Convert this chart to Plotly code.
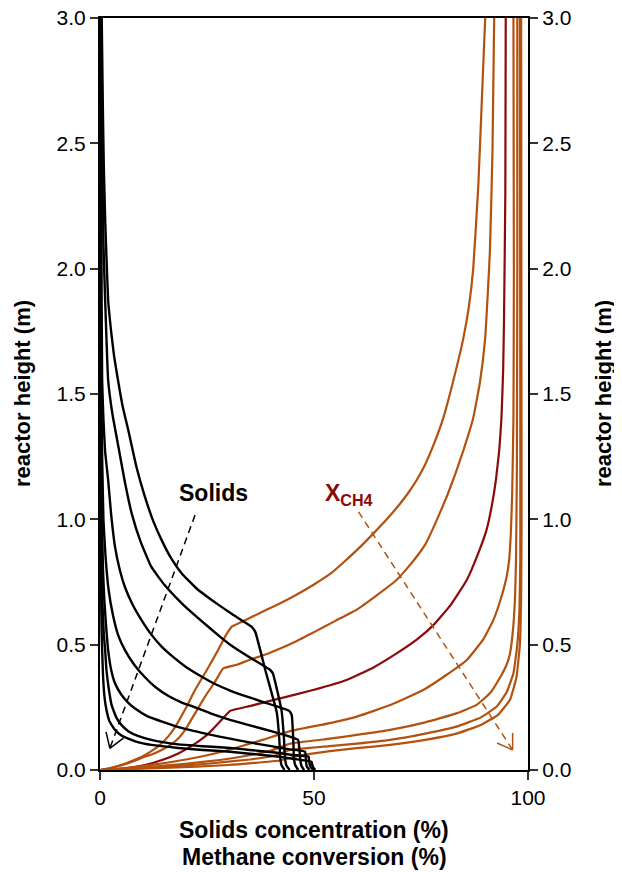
import math
import plotly.graph_objects as go

# ---------------- data ----------------
# Solids concentration (%) vs reactor height (m), seven profiles
SOL1_X = [0.4, 0.55, 0.7, 0.9, 1.2, 1.5, 1.9, 2.6, 3.3, 4.2, 5.3, 6.6, 8.5, 10.5, 12.4, 14.4, 16.6, 19.1, 22.5, 26.1, 31.0, 35.4, 36.3, 38.6, 41.3, 41.9, 42.1, 42.4, 43.1]
SOL1_H = [3.0, 2.8, 2.6, 2.4, 2.2, 2.05, 1.875, 1.75, 1.65, 1.556, 1.45, 1.356, 1.21, 1.09, 0.995, 0.917, 0.845, 0.784, 0.725, 0.678, 0.62, 0.572, 0.55, 0.40, 0.23, 0.12, 0.05, 0.02, 0.0]

SOL2_X = [0.3, 0.4, 0.55, 0.8, 1.2, 1.9, 2.9, 4.3, 5.8, 7.4, 9.5, 12.0, 15.0, 19.1, 23.0, 27.6, 30.4, 35.4, 39.7, 40.4, 42.4, 43.0, 43.2, 43.5, 44.3]
SOL2_H = [3.0, 2.7, 2.4, 2.1, 1.875, 1.556, 1.42, 1.29, 1.15, 1.024, 0.91, 0.81, 0.74, 0.665, 0.605, 0.538, 0.50, 0.445, 0.40, 0.385, 0.239, 0.12, 0.05, 0.02, 0.0]

SOL3_X = [0.2, 0.25, 0.35, 0.5, 0.8, 1.2, 1.9, 2.6, 3.5, 4.6, 5.8, 7.6, 9.7, 12.0, 14.4, 17.0, 20.0, 24.0, 27.0, 30.4, 34.0, 38.0, 44.2, 44.8, 45.2, 45.3, 45.6, 46.3]
SOL3_H = [3.0, 2.5, 2.0, 1.556, 1.4, 1.27, 1.157, 1.02, 0.891, 0.80, 0.731, 0.66, 0.598, 0.54, 0.492, 0.452, 0.412, 0.37, 0.342, 0.317, 0.295, 0.272, 0.236, 0.219, 0.10, 0.05, 0.02, 0.0]

SOL4_X = [0.1, 0.15, 0.3, 0.5, 0.8, 1.3, 2.0, 3.0, 4.2, 5.8, 8.0, 10.5, 13.0, 16.0, 19.0, 22.2, 26.0, 30.4, 35.0, 40.0, 44.0, 46.3, 46.6, 46.8, 47.1, 47.7]
SOL4_H = [3.0, 2.0, 1.556, 1.25, 1.0, 0.85, 0.72, 0.62, 0.54, 0.479, 0.42, 0.37, 0.33, 0.295, 0.27, 0.25, 0.225, 0.20, 0.178, 0.155, 0.135, 0.12, 0.08, 0.04, 0.015, 0.0]

SOL5_X = [0.1, 0.12, 0.2, 0.3, 0.45, 0.7, 1.0, 1.4, 1.9, 2.6, 3.5, 5.0, 6.5, 8.2, 11.0, 15.0, 18.5, 22.2, 26.0, 30.4, 35.0, 40.0, 44.0, 47.9, 48.1, 48.3, 48.9]
SOL5_H = [3.0, 2.0, 1.556, 1.2, 1.0, 0.8, 0.68, 0.58, 0.479, 0.40, 0.346, 0.30, 0.27, 0.245, 0.215, 0.19, 0.17, 0.155, 0.14, 0.125, 0.11, 0.095, 0.083, 0.073, 0.04, 0.015, 0.0]

SOL6_X = [0.05, 0.08, 0.12, 0.2, 0.35, 0.6, 0.9, 1.2, 1.5, 2.0, 2.7, 3.8, 5.0, 6.6, 9.0, 12.0, 15.0, 18.3, 24.0, 30.4, 35.0, 40.9, 45.0, 48.7, 48.9, 49.2, 49.8]
SOL6_H = [3.0, 2.0, 1.5, 1.1, 0.85, 0.65, 0.54, 0.479, 0.40, 0.33, 0.26, 0.21, 0.18, 0.155, 0.135, 0.12, 0.11, 0.102, 0.095, 0.088, 0.08, 0.07, 0.06, 0.053, 0.03, 0.012, 0.0]

SOL7_X = [0.03, 0.05, 0.08, 0.12, 0.2, 0.3, 0.4, 0.5, 0.7, 1.0, 1.5, 2.2, 3.5, 5.0, 6.6, 9.0, 12.0, 18.3, 24.0, 30.4, 35.0, 40.9, 45.0, 49.4, 49.6, 49.9, 50.3]
SOL7_H = [3.0, 2.0, 1.5, 1.1, 0.85, 0.65, 0.54, 0.479, 0.38, 0.30, 0.24, 0.195, 0.16, 0.138, 0.125, 0.11, 0.10, 0.088, 0.08, 0.073, 0.065, 0.055, 0.045, 0.033, 0.02, 0.008, 0.0]

# Methane conversion (%) vs reactor height (m), seven profiles
XCH4_1_X = [0, 2, 4, 6, 8, 10, 12, 14, 16, 17.5, 20, 22.2, 25, 27.6, 29.5, 30.8, 33, 36, 39, 42.1, 46, 50, 54, 57, 60.5, 63.9, 67, 70, 72, 74, 76, 78, 80.2, 82.5, 84.9, 86.2, 87.2, 88.4, 89.2, 90.0]
XCH4_1_H = [0, 0.006, 0.015, 0.026, 0.04, 0.055, 0.075, 0.10, 0.135, 0.17, 0.245, 0.319, 0.40, 0.479, 0.54, 0.572, 0.59, 0.615, 0.64, 0.665, 0.70, 0.74, 0.785, 0.83, 0.885, 0.944, 1.0, 1.06, 1.105, 1.157, 1.22, 1.30, 1.404, 1.55, 1.723, 1.85, 2.0, 2.335, 2.667, 3.0]

XCH4_2_X = [0, 3, 6.6, 10, 12.5, 14.4, 16.5, 18.5, 19.9, 22, 24.5, 26.8, 28.8, 32, 35, 38.5, 42.1, 46, 50, 55, 60, 64.5, 69.3, 73, 76, 78.5, 81, 83, 85, 87.2, 88.8, 90, 90.6, 91.1, 91.7, 92.1]
XCH4_2_H = [0, 0.01, 0.027, 0.05, 0.065, 0.08, 0.10, 0.13, 0.16, 0.22, 0.292, 0.35, 0.405, 0.42, 0.44, 0.46, 0.485, 0.515, 0.55, 0.595, 0.64, 0.695, 0.758, 0.83, 0.90, 0.99, 1.09, 1.18, 1.28, 1.404, 1.55, 1.723, 1.9, 2.069, 2.468, 3.0]

XCH4_3_X = [0, 5, 10.5, 14.5, 18.3, 21.5, 24.5, 26.5, 28.4, 30.4, 35, 42.1, 50, 57.6, 64, 69.3, 74, 77.9, 82, 85.7, 88.5, 90.3, 91.5, 92.5, 93.3, 93.8, 94.2, 94.4, 94.7, 94.8]
XCH4_3_H = [0, 0.005, 0.02, 0.04, 0.066, 0.097, 0.133, 0.165, 0.2, 0.236, 0.255, 0.286, 0.32, 0.359, 0.41, 0.465, 0.52, 0.578, 0.66, 0.758, 0.87, 0.957, 1.05, 1.157, 1.28, 1.404, 1.6, 1.803, 2.3, 3.0]

XCH4_4_X = [0, 8, 16, 24, 30, 34, 38, 44.4, 53.7, 60, 68, 75.5, 81, 85.7, 89.5, 91.9, 93.6, 95.0, 95.6, 96.0, 96.3, 96.6, 96.7, 96.6]
XCH4_4_H = [0, 0.012, 0.03, 0.055, 0.08, 0.10, 0.12, 0.155, 0.187, 0.213, 0.26, 0.319, 0.38, 0.439, 0.52, 0.598, 0.68, 0.771, 0.838, 0.95, 1.1, 1.404, 2.0, 3.0]

XCH4_5_X = [0, 10, 20, 28, 34, 40, 44.4, 53.7, 60, 67.8, 76, 83.3, 88, 91.1, 93.5, 95.0, 95.8, 96.6, 97.0, 97.2, 97.4, 97.5, 97.5]
XCH4_5_H = [0, 0.01, 0.025, 0.04, 0.056, 0.078, 0.105, 0.125, 0.14, 0.16, 0.19, 0.226, 0.26, 0.306, 0.37, 0.42, 0.465, 0.58, 0.705, 0.838, 1.2, 2.0, 3.0]

XCH4_6_X = [0, 15, 25, 35, 41, 44.4, 53.7, 60, 67.8, 76, 83.3, 89, 92.7, 95, 96.6, 97.5, 98.0, 98.2, 98.2, 98.1]
XCH4_6_H = [0, 0.012, 0.025, 0.042, 0.058, 0.08, 0.095, 0.105, 0.12, 0.145, 0.173, 0.21, 0.253, 0.31, 0.386, 0.5, 0.638, 0.838, 1.5, 3.0]

XCH4_7_X = [0, 15, 30, 42, 46, 53.7, 60, 67.8, 76, 83.3, 89, 93, 95.8, 97.3, 98.1, 98.4, 98.5, 98.4]
XCH4_7_H = [0, 0.008, 0.02, 0.038, 0.055, 0.075, 0.087, 0.1, 0.12, 0.145, 0.18, 0.22, 0.28, 0.37, 0.5, 0.7, 1.0, 3.0]

X_TICKS = [0, 50, 100]
Y_TICKS = [0.0, 0.5, 1.0, 1.5, 2.0, 2.5, 3.0]

# annotation positions (data units)
SOLIDS_LABEL = (26.6, 1.107)
XCH4_LABEL = (52.0, 1.10)
SOLIDS_ARROW = [(22.2, 1.017), (2.3, 0.086)]
XCH4_ARROW = [(60.4, 1.03), (96.4, 0.08)]

# ---------------- styling ----------------
# the page body has an 8px default margin, so the figure is sized/offset for it
W, H = 614, 864
ML, MR, MT, MB = 92, 94, 10, 102
PW, PH = W - ML - MR, H - MT - MB
BLACK = "#000000"
ORANGE = "#B3510F"
DARKRED = "#8B0A0A"
FONT = "Liberation Sans, Arial, sans-serif"

fig = go.Figure()

orange_series = [
    (XCH4_1_X, XCH4_1_H, ORANGE),
    (XCH4_2_X, XCH4_2_H, ORANGE),
    (XCH4_3_X, XCH4_3_H, DARKRED),
    (XCH4_4_X, XCH4_4_H, ORANGE),
    (XCH4_5_X, XCH4_5_H, ORANGE),
    (XCH4_6_X, XCH4_6_H, ORANGE),
    (XCH4_7_X, XCH4_7_H, ORANGE),
]
for xs, hs, col in orange_series:
    fig.add_trace(go.Scatter(x=xs, y=hs, mode="lines",
                             line=dict(color=col, width=2.2, shape="spline", smoothing=0.35),
                             showlegend=False, hoverinfo="skip"))

solids_series = [(SOL1_X, SOL1_H), (SOL2_X, SOL2_H), (SOL3_X, SOL3_H), (SOL4_X, SOL4_H),
                 (SOL5_X, SOL5_H), (SOL6_X, SOL6_H), (SOL7_X, SOL7_H)]
for xs, hs in solids_series:
    fig.add_trace(go.Scatter(x=xs, y=hs, mode="lines",
                             line=dict(color=BLACK, width=2.4, shape="spline", smoothing=0.35),
                             showlegend=False, hoverinfo="skip"))

# dashed arrows with open V heads
sx = PW / 100.0
sy = PH / 3.0


def add_arrow(p0, p1, color, length=17, half_angle=33):
    (x0, y0), (x1, y1) = p0, p1
    fig.add_trace(go.Scatter(x=[x0, x1], y=[y0, y1], mode="lines",
                             line=dict(color=color, width=1.5, dash="7px,5px"),
                             showlegend=False, hoverinfo="skip"))
    dx, dy = (x1 - x0) * sx, (y1 - y0) * sy
    L = math.hypot(dx, dy)
    bx, by = -dx / L, -dy / L
    hx, hy = [], []
    for s in (1, -1):
        a = math.radians(half_angle) * s
        rx = bx * math.cos(a) - by * math.sin(a)
        ry = bx * math.sin(a) + by * math.cos(a)
        hx += [x1 + rx * length / sx, x1, None]
        hy += [y1 + ry * length / sy, y1, None]
    fig.add_trace(go.Scatter(x=hx, y=hy, mode="lines", line=dict(color=color, width=1.5),
                             showlegend=False, hoverinfo="skip"))


add_arrow(SOLIDS_ARROW[0], SOLIDS_ARROW[1], BLACK)
add_arrow(XCH4_ARROW[0], XCH4_ARROW[1], ORANGE)

# trace bound to the right axis (no visible marks)
fig.add_trace(go.Scatter(x=[0, 0], y=[0, 3.0], yaxis="y2", mode="lines",
                         line=dict(color="rgba(0,0,0,0)", width=0),
                         showlegend=False, hoverinfo="skip"))

axis_common = dict(showgrid=False, zeroline=False, showline=True, linecolor=BLACK, linewidth=2,
                   ticks="outside", ticklen=8, tickwidth=1.5, tickcolor="#333333",
                   automargin=False, ticklabeloverflow="allow",
                   tickfont=dict(family=FONT, size=21, color=BLACK))

fig.update_layout(
    width=W, height=H,
    margin=dict(l=ML, r=MR, t=MT, b=MB, pad=0, autoexpand=False),
    paper_bgcolor="white", plot_bgcolor="white",
    xaxis=dict(range=[0, 100], tickvals=X_TICKS, mirror=True, **axis_common),
    yaxis=dict(range=[0, 3.0], tickvals=Y_TICKS, tickformat=".1f", **axis_common),
    yaxis2=dict(range=[0, 3.0], tickvals=Y_TICKS, tickformat=".1f", overlaying="y", side="right",
                **axis_common),
    font=dict(family=FONT, color=BLACK),
)

annotations = [
    dict(x=SOLIDS_LABEL[0], y=SOLIDS_LABEL[1], xref="x", yref="y", text="<b>Solids</b>",
         showarrow=False, font=dict(family=FONT, size=23, color=BLACK)),
    dict(x=XCH4_LABEL[0], y=XCH4_LABEL[1], xref="x", yref="y", text="<b>X<sub>CH4</sub></b>",
         showarrow=False, xanchor="left", font=dict(family=FONT, size=23, color=DARKRED)),
    dict(x=-78 / PW, y=0.5, xref="paper", yref="paper", xanchor="center", yanchor="middle",
         text="<b>reactor height (m)</b>",
         textangle=-90, showarrow=False, font=dict(family=FONT, size=22, color=BLACK)),
    dict(x=1 + 75 / PW, y=0.5, xref="paper", yref="paper", xanchor="center", yanchor="middle",
         text="<b>reactor height (m)</b>",
         textangle=-90, showarrow=False, font=dict(family=FONT, size=22, color=BLACK)),
    dict(x=0.5, y=-60 / PH, xref="paper", yref="paper", yanchor="middle",
         text="<b>Solids concentration (%)</b>", showarrow=False,
         font=dict(family=FONT, size=23, color=BLACK)),
    dict(x=0.5, y=-87 / PH, xref="paper", yref="paper", yanchor="middle",
         text="<b>Methane conversion (%)</b>", showarrow=False,
         font=dict(family=FONT, size=23, color=BLACK)),
]
fig.update_layout(annotations=annotations)

fig.write_html("out.html")
